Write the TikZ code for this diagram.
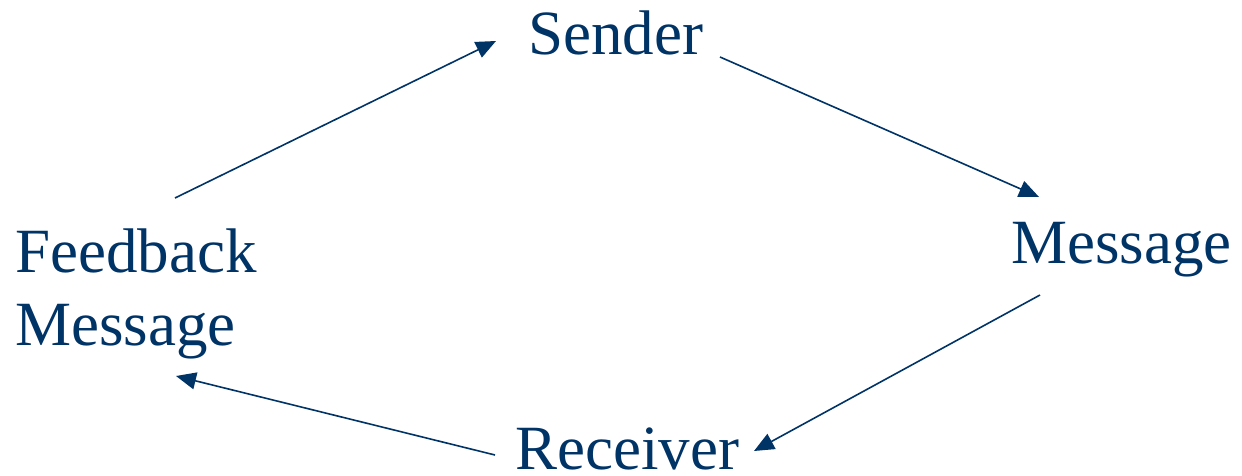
\documentclass[tikz,border=0pt]{standalone}
\usepackage{fontspec}
\setmainfont{Liberation Serif}
\usetikzlibrary{arrows.meta}
\definecolor{navy}{HTML}{003366}
\tikzset{
  lbl/.style={text=navy, inner sep=0pt, anchor=base west, font=\fontsize{63}{73}\selectfont},
  arr/.style={draw=navy, line width=1.6pt, -{Triangle[length=20pt,width=17pt]}}
}
\begin{document}
\begin{tikzpicture}[x=1pt,y=-1pt]
\useasboundingbox (0,0) rectangle (1242,476);
% labels
\node[lbl] (sender) at (528,55) {Sender};
\node[lbl] (message) at (1011,263) {Message};
\node[lbl] (receiver) at (515,469) {Receiver};
\node[lbl, align=left] (feedback) at (15,345) {Feedback\\Message};
% connector end points
\coordinate (s1) at (175,198);  \coordinate (s2) at (496,41);
\coordinate (m1) at (720,57);   \coordinate (m2) at (1039,197);
\coordinate (r1) at (1040,295); \coordinate (r2) at (754,451);
\coordinate (f1) at (495,455);  \coordinate (f2) at (176,376);
% cycle of arrows
\draw[arr] (s1) -- (s2);
\draw[arr] (m1) -- (m2);
\draw[arr] (r1) -- (r2);
\draw[arr] (f1) -- (f2);
\end{tikzpicture}
\end{document}
